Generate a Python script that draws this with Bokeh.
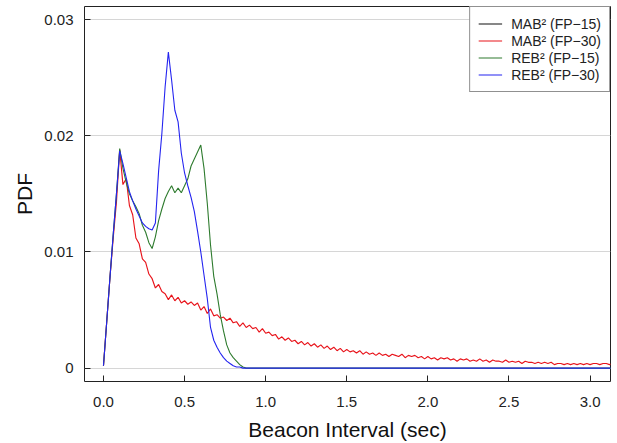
import numpy as np
from bokeh.plotting import figure
from bokeh.models import (FixedTicker, Legend, LegendItem, Range1d, CDSView,
                          IndexFilter, ColumnDataSource)
from bokeh.embed import file_html
from bokeh.resources import INLINE

# ---- data ----
series_names = ["MAB\u00b2 (FP\u221215)", "MAB\u00b2 (FP\u221230)",
                "REB\u00b2 (FP\u221215)", "REB\u00b2 (FP\u221230)"]
series_colors = ["#111111", "#e8141b", "#2e7b2e", "#2424f0"]

x_ticks = [0.0, 0.5, 1.0, 1.5, 2.0, 2.5, 3.0]
x_tick_labels = ["0.0", "0.5", "1.0", "1.5", "2.0", "2.5", "3.0"]
y_ticks = [0.0, 0.01, 0.02, 0.03]
y_tick_labels = ["0", "0.01", "0.02", "0.03"]

# MAB2 (FP-30): sampled every 0.02 s from 0.00
red_vals = [
    0.0002, 0.0040, 0.0078, 0.0112, 0.0143, 0.0188, 0.0158, 0.0163, 0.0140, 0.0132,
    0.0112, 0.0107, 0.0094, 0.0091, 0.0081, 0.0077, 0.0069, 0.0072, 0.0066, 0.0064,
    0.0059, 0.0063, 0.0058, 0.0061, 0.0056, 0.0058, 0.0055, 0.0057, 0.0054, 0.0056,
    0.0050, 0.0053, 0.0047, 0.0051, 0.0045, 0.0046, 0.0043, 0.0044, 0.0041, 0.0043,
    0.0039, 0.0040, 0.0036, 0.0039, 0.0035, 0.0037, 0.0034, 0.0035, 0.0031, 0.0034,
    0.0030, 0.0031, 0.0028, 0.0029, 0.0025, 0.0027, 0.0024, 0.0026, 0.0023, 0.0024,
    0.0021, 0.0023, 0.0020, 0.0022, 0.0019, 0.0021, 0.0018, 0.0020, 0.0017, 0.0019,
    0.0016, 0.0018, 0.0015, 0.0017, 0.0014, 0.0016, 0.0014, 0.0015, 0.0013, 0.0015,
    0.0012, 0.0014, 0.0012, 0.0013, 0.0011, 0.0013, 0.0011, 0.0012, 0.0010, 0.0012,
    0.0011, 0.0010, 0.0012, 0.0009, 0.0011, 0.0010, 0.0011, 0.0009, 0.0010, 0.0008,
    0.0010, 0.0008, 0.0009, 0.0007, 0.0009, 0.0008, 0.0009, 0.0007, 0.0008, 0.0006,
    0.0008, 0.0007, 0.0008, 0.0006, 0.0007, 0.0006, 0.0008, 0.0006, 0.0007, 0.0005,
    0.0007, 0.0006, 0.0006, 0.0005, 0.0007, 0.0005, 0.0006, 0.0005, 0.0006, 0.0004,
    0.0006, 0.0005, 0.0005, 0.0004, 0.0005, 0.0004, 0.0005, 0.0004, 0.0005, 0.0003,
    0.0004, 0.0004, 0.0003, 0.0004, 0.0003, 0.0004, 0.0003, 0.0004, 0.0003, 0.0004,
    0.0003, 0.0004, 0.0004, 0.0003, 0.0004, 0.0004, 0.0003, 0.0004,
]
# MAB2 (FP-15): not visible in the picture (covered by the other traces)
black_vals = list(red_vals)

# REB2 curves: sampled every 0.02 s from 0.00 to 0.88, then zero to the end
green_vals = [
    0.0002, 0.0040, 0.0078, 0.0115, 0.0150, 0.0189, 0.0172, 0.0160, 0.0150, 0.0144,
    0.0139, 0.0133, 0.0123, 0.0117, 0.0108, 0.0103, 0.0113, 0.0127, 0.0137, 0.0146,
    0.0152, 0.0157, 0.0151, 0.0155, 0.0151, 0.0157, 0.0163, 0.0174, 0.0180, 0.0186,
    0.0192, 0.0172, 0.0142, 0.0106, 0.0079, 0.0064, 0.0046, 0.0032, 0.0020, 0.0013,
    0.0009, 0.0006, 0.0003, 0.0001, 0.0000, 0.0000,
]
blue_vals = [
    0.0002, 0.0040, 0.0078, 0.0115, 0.0150, 0.0187, 0.0176, 0.0164, 0.0152, 0.0144,
    0.0137, 0.0131, 0.0125, 0.0122, 0.0120, 0.0119, 0.0125, 0.0170, 0.0202, 0.0242,
    0.0272, 0.0248, 0.0222, 0.0212, 0.0185, 0.0168, 0.0157, 0.0147, 0.0135, 0.0118,
    0.0100, 0.0080, 0.0060, 0.0035, 0.0024, 0.0018, 0.0013, 0.0009, 0.0006, 0.0004,
    0.0002, 0.0001, 0.0001, 0.0000, 0.0000, 0.0000,
]
x_end = 3.14

def grid_x(vals, step=0.02):
    return list(np.round(np.arange(len(vals)) * step, 2))

red_x = grid_x(red_vals)
black_x = grid_x(black_vals)
reb_x = grid_x(green_vals[:-1]) + [x_end]

FONT = "Liberation Sans"

p = figure(width=612, height=443, output_backend="svg", toolbar_location=None,
           x_range=Range1d(-0.117, 3.126), y_range=Range1d(-0.00115, 0.03113),
           min_border_left=84, min_border_right=2, min_border_top=6, min_border_bottom=10)
p.background_fill_color = "white"
p.border_fill_color = "white"
p.outline_line_color = "#222222"
p.outline_line_width = 1

# the FP-15 MAB2 trace is entirely covered in the picture; only its start point is kept
black_src = ColumnDataSource(dict(x=black_x, y=black_vals))
r_black = p.line("x", "y", source=black_src, line_color=series_colors[0], line_width=1.1,
                 view=CDSView(filter=IndexFilter(indices=[0])))
r_red = p.line(red_x, red_vals, line_color=series_colors[1], line_width=1.15)
r_green = p.line(reb_x, green_vals, line_color=series_colors[2], line_width=1.1)
r_blue = p.line(reb_x, blue_vals, line_color=series_colors[3], line_width=1.1)

# axes
for ax in (p.xaxis[0], p.yaxis[0]):
    ax.axis_line_color = None
    ax.major_tick_in = 6
    ax.major_tick_out = 0
    ax.major_tick_line_color = "#222222"
    ax.minor_tick_line_color = None
    ax.major_label_text_font = FONT
    ax.major_label_text_font_size = "15px"
    ax.major_label_text_color = "#222222"
    ax.axis_label_text_font = FONT
    ax.axis_label_text_font_size = "21px"
    ax.axis_label_text_font_style = "normal"
    ax.axis_label_text_color = "#111111"

p.xaxis.ticker = FixedTicker(ticks=x_ticks)
p.xaxis.major_label_overrides = dict(zip(x_ticks, x_tick_labels))
p.yaxis.ticker = FixedTicker(ticks=y_ticks)
p.yaxis.major_label_overrides = dict(zip(y_ticks, y_tick_labels))
p.xaxis.axis_label = "Beacon Interval (sec)"
p.yaxis.axis_label = "PDF"
p.xaxis.major_label_standoff = 15
p.xaxis.axis_label_standoff = 8
p.yaxis.major_label_standoff = 11
p.yaxis.axis_label_standoff = 5

p.xgrid.grid_line_color = None
p.ygrid.grid_line_color = "#d6d6d6"
p.ygrid.grid_line_width = 1
p.ygrid.ticker = FixedTicker(ticks=y_ticks)

legend = Legend(items=[
    LegendItem(label=series_names[0], renderers=[r_black], index=0),
    LegendItem(label=series_names[1], renderers=[r_red]),
    LegendItem(label=series_names[2], renderers=[r_green]),
    LegendItem(label=series_names[3], renderers=[r_blue]),
], location="top_right")
legend.margin = 0
legend.padding = 8
legend.spacing = 0
legend.label_height = 17
legend.glyph_height = 17
legend.glyph_width = 24
legend.label_standoff = 9
legend.label_text_font = FONT
legend.label_text_font_size = "14px"
legend.label_text_color = "#222222"
legend.border_line_color = "#222222"
legend.border_line_width = 1
legend.background_fill_color = "white"
legend.background_fill_alpha = 1.0
p.add_layout(legend)

open("out.html", "w").write(file_html(p, INLINE))
